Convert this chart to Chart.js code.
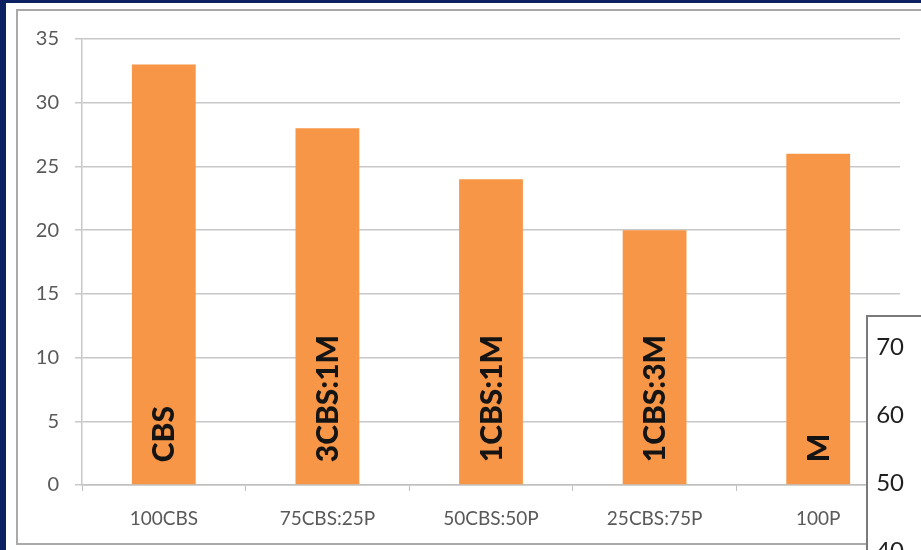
<!DOCTYPE html>
<html>
<head>
<meta charset="utf-8">
<script src="https://cdn.jsdelivr.net/npm/chart.js@4.4.1/dist/chart.umd.min.js"></script>
<style>
  html, body { margin: 0; padding: 0; width: 921px; height: 550px; overflow: hidden; background: #0b2161; }
  #panel { position: absolute; left: 6px; top: 3px; width: 940px; height: 560px; background: #fff; }
  #main { position: absolute; left: 16px; top: 9px; width: 920px; height: 536px; border: 2px solid #a9a9a9; border-right: none; box-sizing: border-box; }
  #main canvas { position: absolute; left: 0; top: 0; }
  #side { position: absolute; left: 866px; top: 315px; width: 200px; height: 300px; border: 2px solid #7a7a7a; background: #fff; box-sizing: border-box; }
  #side canvas { position: absolute; left: 0; top: 0; }
</style>
</head>
<body>
<div id="panel"></div>
<div id="main"><canvas id="myChart" width="904" height="532"></canvas></div>
<div id="side"><canvas id="sideChart" width="196" height="296"></canvas></div>
<script>
// chart data
var categories = ['100CBS', '75CBS:25P', '50CBS:50P', '25CBS:75P', '100P'];
var values = [33, 28, 24, 20, 26];
var barLabels = ['CBS', '3CBS:1M', '1CBS:1M', '1CBS:3M', 'M'];
var yTicks = [0, 5, 10, 15, 20, 25, 30, 35];
// the cut-off chart in the corner only shows its axis
var sideTicks = [40, 50, 60, 70];

// writes the mix name up the inside of each bar
var barText = {
    id: 'barText',
    afterDatasetsDraw: function (chart) {
        var ctx = chart.ctx;
        var meta = chart.getDatasetMeta(0);
        ctx.save();
        ctx.font = '900 30px Lato';
        ctx.fillStyle = '#141414';
        ctx.textAlign = 'left';
        ctx.textBaseline = 'middle';
        meta.data.forEach(function (bar, i) {
            ctx.save();
            ctx.translate(bar.x, bar.base - 22);
            ctx.rotate(-Math.PI / 2);
            ctx.fillText(barLabels[i], 0, 1);
            ctx.restore();
        });
        ctx.restore();
    }
};

var ctx = document.getElementById('myChart').getContext('2d');
var myChart = new Chart(ctx, {
    type: 'bar',
    data: {
        labels: categories,
        datasets: [{
            data: values,
            backgroundColor: '#f79646',
            barPercentage: 0.78,
            categoryPercentage: 0.5
        }]
    },
    options: {
        responsive: false,
        animation: false,
        devicePixelRatio: 1,
        layout: { padding: { top: 28, right: 22, left: 0, bottom: 0 } },
        plugins: { legend: { display: false }, tooltip: { enabled: false } },
        scales: {
            x: {
                grid: { offset: true, drawOnChartArea: false, drawTicks: true, tickLength: 6, color: '#c0c0c0' },
                border: { color: '#c0c0c0', width: 1.5 },
                ticks: { font: { family: 'Lato', size: 19 }, color: '#595959', padding: 16, maxRotation: 0 },
                afterFit: function (s) { s.height = 58; }
            },
            y: {
                min: 0,
                max: 35,
                afterBuildTicks: function (s) { s.ticks = yTicks.map(function (v) { return { value: v }; }); },
                grid: { color: '#c8c8c8', lineWidth: 1.5, tickLength: 7 },
                border: { color: '#c8c8c8', width: 1.5 },
                ticks: { font: { family: 'Lato', size: 20 }, color: '#595959', padding: 16 },
                afterFit: function (s) { s.width = 64; }
            }
        }
    },
    plugins: [barText]
});

var sideCtx = document.getElementById('sideChart').getContext('2d');
var sideChart = new Chart(sideCtx, {
    type: 'line',
    data: { labels: [''], datasets: [{ data: [] }] },
    options: {
        responsive: false,
        animation: false,
        devicePixelRatio: 1,
        layout: { padding: { top: 30, bottom: 62, left: 0, right: 0 } },
        plugins: { legend: { display: false }, tooltip: { enabled: false } },
        scales: {
            x: { display: false },
            y: {
                min: 40,
                max: 70,
                afterBuildTicks: function (s) { s.ticks = sideTicks.map(function (v) { return { value: v }; }); },
                grid: { display: false },
                border: { display: false },
                ticks: { font: { family: 'Lato', size: 24 }, color: '#1f1f1f', padding: 6 },
                afterFit: function (s) { s.width = 50; }
            }
        }
    }
});
</script>
</body>
</html>
